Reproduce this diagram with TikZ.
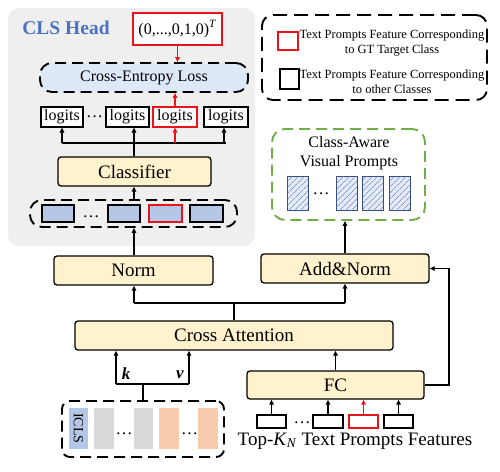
\documentclass[tikz,border=0pt]{standalone}
\usepackage{fontspec}
\setmainfont{Liberation Serif}
\usetikzlibrary{arrows.meta,patterns.meta,calc}
\definecolor{bggray}{HTML}{EFEFEF}
\definecolor{clsblue}{HTML}{4A72C0}
\definecolor{ceblue}{HTML}{DDE9F7}
\definecolor{featblue}{HTML}{B4C7E7}
\definecolor{boxyellow}{HTML}{FFF2CC}
\definecolor{myred}{HTML}{E8141B}
\definecolor{mygreen}{HTML}{70AD47}
\definecolor{tokgray}{HTML}{D9D9D9}
\definecolor{tokorange}{HTML}{F8CBAD}
\definecolor{hatchfill}{HTML}{E4EAF6}
\definecolor{hatchline}{HTML}{4F6DB8}
\begin{document}
\begin{tikzpicture}[x=1pt,y=-1pt,
  ybox/.style={draw, fill=boxyellow, line width=1.3pt, rounded corners=3pt, inner sep=0pt,
    minimum height=29pt, font=\fontsize{19}{22}\selectfont},
  dbox/.style={draw, line width=1.9pt, dash pattern=on 11pt off 6pt, inner sep=0pt},
  smallbox/.style={draw, line width=1.2pt, inner sep=0pt},
  tok/.style={inner sep=0pt, minimum height=41pt, minimum width=19.5pt},
  hatch/.style={draw=hatchline!70!black, line width=0.8pt, fill=hatchfill, inner sep=0pt,
    minimum width=21pt, minimum height=34pt,
    postaction={pattern={Lines[angle=45,distance=4pt,line width=0.6pt]}, pattern color=hatchline}},
  arr/.style={line width=1.4pt, -{Triangle[length=5pt,width=4.5pt]}},
  ln/.style={line width=1.4pt},
  redarr/.style={line width=1.4pt, draw=myred, -{Triangle[length=5pt,width=4.5pt]}},
  dots/.style={font=\fontsize{17}{17}\selectfont, inner sep=0pt}
]
\useasboundingbox (0,0) rectangle (500,471);

% CLS head background
\node[fill=bggray, rounded corners=11pt, minimum width=247pt, minimum height=238pt, inner sep=0pt] (clsbg) at (131.5,127) {};
\node[font=\bfseries\fontsize{19.5}{22}\selectfont, text=clsblue, inner sep=0pt] (title) at (66,28) {CLS Head};
\node[draw=myred, line width=1.3pt, fill=white, minimum width=89pt, minimum height=32pt, inner sep=0pt,
  font=\fontsize{16}{18}\selectfont] (onehot) at (177.5,29) {(0,...,0,1,0)\textsuperscript{\textit{T}}};
\node[dbox, fill=ceblue, rounded corners=12pt, minimum width=208pt, minimum height=29pt,
  font=\fontsize{16}{18}\selectfont] (celoss) at (144,77.5) {Cross-Entropy Loss};
\draw[redarr] (onehot.south) -- (onehot.south |- celoss.north);

% logits
\tikzset{lg/.style={smallbox, fill=white, minimum height=20pt, font=\fontsize{16}{18}\selectfont}}
\node[lg, minimum width=42pt] (l1) at (62,117) {logits};
\node[dots] (ldots) at (94.5,117) {\char"2026};
\node[lg, minimum width=43pt] (l2) at (127.5,117) {logits};
\node[lg, draw=myred, minimum width=44pt] (l3) at (175,117) {logits};
\node[lg, minimum width=44pt] (l4) at (226,117) {logits};
\draw[redarr] (l3.north) -- (l3.north |- celoss.south);

% classifier
\node[ybox, minimum width=153pt] (cls) at (134.5,171.5) {Classifier};
\coordinate (bus1) at (0,143);
\draw[ln] (l1.south |- bus1) -- (l4.south |- bus1);
\draw[arr] (cls.north -| 134,0) -- (134,0 |- l2.south);
\draw[arr] (l1.south |- bus1) -- (l1.south);
\draw[arr] (224,0 |- bus1) -- (224,0 |- l4.south);
\draw[redarr] (l3.south |- bus1) -- (l3.south);

% feature row
\node[dbox, rounded corners=12pt, minimum width=207pt, minimum height=27pt] (featrow) at (133.5,213.5) {};
\tikzset{fb/.style={smallbox, fill=featblue, minimum height=17pt, minimum width=32pt, line width=1.1pt}}
\node[fb] (f1) at (58,213.5) {};
\node[dots] (fdots) at (91,217) {\char"2026};
\node[fb] (f2) at (124,213.5) {};
\node[fb, draw=myred, minimum width=33pt] (f3) at (165.5,213.5) {};
\node[fb, minimum width=33pt] (f4) at (206.5,213.5) {};
\draw[arr] (featrow.north -| 134,0) -- (134,0 |- cls.south);

% Norm, Add&Norm, Cross Attention
\node[ybox, minimum width=159pt] (norm) at (133.5,270.5) {Norm};
\node[ybox, minimum width=168pt] (an) at (345,268.5) {Add\&Norm};
\node[ybox, minimum width=318pt] (ca) at (234,335.5) {Cross Attention};
\draw[arr] (norm.north -| 134,0) -- (134,0 |- featrow.south);
\coordinate (bus2) at (0,303);
\draw[ln] (ca.north) -- (ca.north |- bus2);
\draw[ln] (134,0 |- bus2) -- (an.south |- bus2);
\draw[arr] (134,0 |- bus2) -- (134,0 |- norm.south);
\draw[arr] (an.south |- bus2) -- (an.south);

% Class-aware visual prompts
\node[draw=mygreen, line width=1.9pt, dash pattern=on 11pt off 6pt, rounded corners=13pt,
  minimum width=153pt, minimum height=91pt, inner sep=0pt] (green) at (348.5,174.5) {};
\node[font=\fontsize{16}{19}\selectfont, align=center, inner sep=0pt] (gtitle) at (349,153.5) {Class-Aware\\Visual Prompts};
\node[hatch] (v1) at (297.5,193) {};
\node[dots] (vdots) at (321,194) {\char"2026};
\node[hatch] (v2) at (346.5,193) {};
\node[hatch] (v3) at (372.5,193) {};
\node[hatch] (v4) at (399.5,193) {};
\draw[arr] (an.north) -- (an.north |- green.south);

% FC
\node[ybox, minimum width=177pt, minimum height=28pt] (fc) at (335.5,385) {FC};
\draw[arr] (fc.north) -- (fc.north |- ca.south);
\coordinate (loop) at (449,0);
\draw[arr] (fc.east) -- (fc.east -| loop) |- (an.east);

% text prompt features
\tikzset{tp/.style={smallbox, fill=white, minimum height=13pt, minimum width=29pt}}
\node[tp] (t1) at (271.5,421.5) {};
\node[dots] (tdots) at (302,423) {\char"2026};
\node[tp, minimum width=30pt] (t2) at (328,421.5) {};
\node[tp, draw=myred] (t3) at (363.5,421.5) {};
\node[tp] (t4) at (398.5,421.5) {};
\draw[arr] (t1.north) -- (t1.north |- fc.south);
\draw[arr] (t2.north) -- (t2.north |- fc.south);
\draw[redarr] (t3.north) -- (t3.north |- fc.south);
\draw[arr] (t4.north) -- (t4.north |- fc.south);
\node[font=\fontsize{19}{22}\selectfont, inner sep=0pt] (tplabel) at (355,441)
  {Top-\textit{K}\textsubscript{\textit{N}} Text Prompts Features};

% image tokens
\node[dbox, rounded corners=8pt, minimum width=162pt, minimum height=56pt] (inbox) at (143,429) {};
\node[tok, fill=featblue] (icls) at (78.5,428.5) {};
\node[rotate=-90, font=\fontsize{14}{14}\selectfont, inner sep=0pt] (iclstxt) at (78.5,428.5) {ICLS};
\node[tok, fill=tokgray] (g1) at (104,428.5) {};
\node[dots] (gdots) at (124,434) {\char"2026};
\node[tok, fill=tokgray] (g2) at (143.5,428.5) {};
\node[tok, fill=tokorange] (o1) at (169,428.5) {};
\node[dots] (odots) at (189.5,434) {\char"2026};
\node[tok, fill=tokorange] (o2) at (208,428.5) {};

\coordinate (bus3) at (0,384);
\coordinate (kx) at (116,0);
\coordinate (vx) at (189,0);
\draw[ln] (inbox.north) -- (inbox.north |- bus3);
\draw[ln] (kx |- bus3) -- (vx |- bus3);
\draw[arr] (kx |- bus3) -- (kx |- ca.south);
\draw[arr] (vx |- bus3) -- (vx |- ca.south);
\node[font=\bfseries\itshape\fontsize{17}{17}\selectfont, inner sep=0pt] (klab) at (126,374) {k};
\node[font=\bfseries\itshape\fontsize{17}{17}\selectfont, inner sep=0pt] (vlab) at (180,375) {v};

% legend
\node[dbox, dash pattern=on 14pt off 7pt, rounded corners=11pt, minimum width=225pt, minimum height=85pt] (legend) at (374.5,57.5) {};
\node[smallbox, draw=myred, minimum width=20pt, minimum height=18pt] (lr) at (288,41) {};
\node[font=\fontsize{12.5}{15}\selectfont, align=center, inner sep=0pt] (lrt) at (392,43.5)
  {Text Prompts Feature Corresponding\\to GT Target Class};
\node[smallbox, minimum width=19pt, minimum height=20pt] (lb) at (289.5,79) {};
\node[font=\fontsize{12.5}{15}\selectfont, align=center, inner sep=0pt] (lbt) at (392,82)
  {Text Prompts Feature Corresponding\\to other Classes};
\end{tikzpicture}
\end{document}
